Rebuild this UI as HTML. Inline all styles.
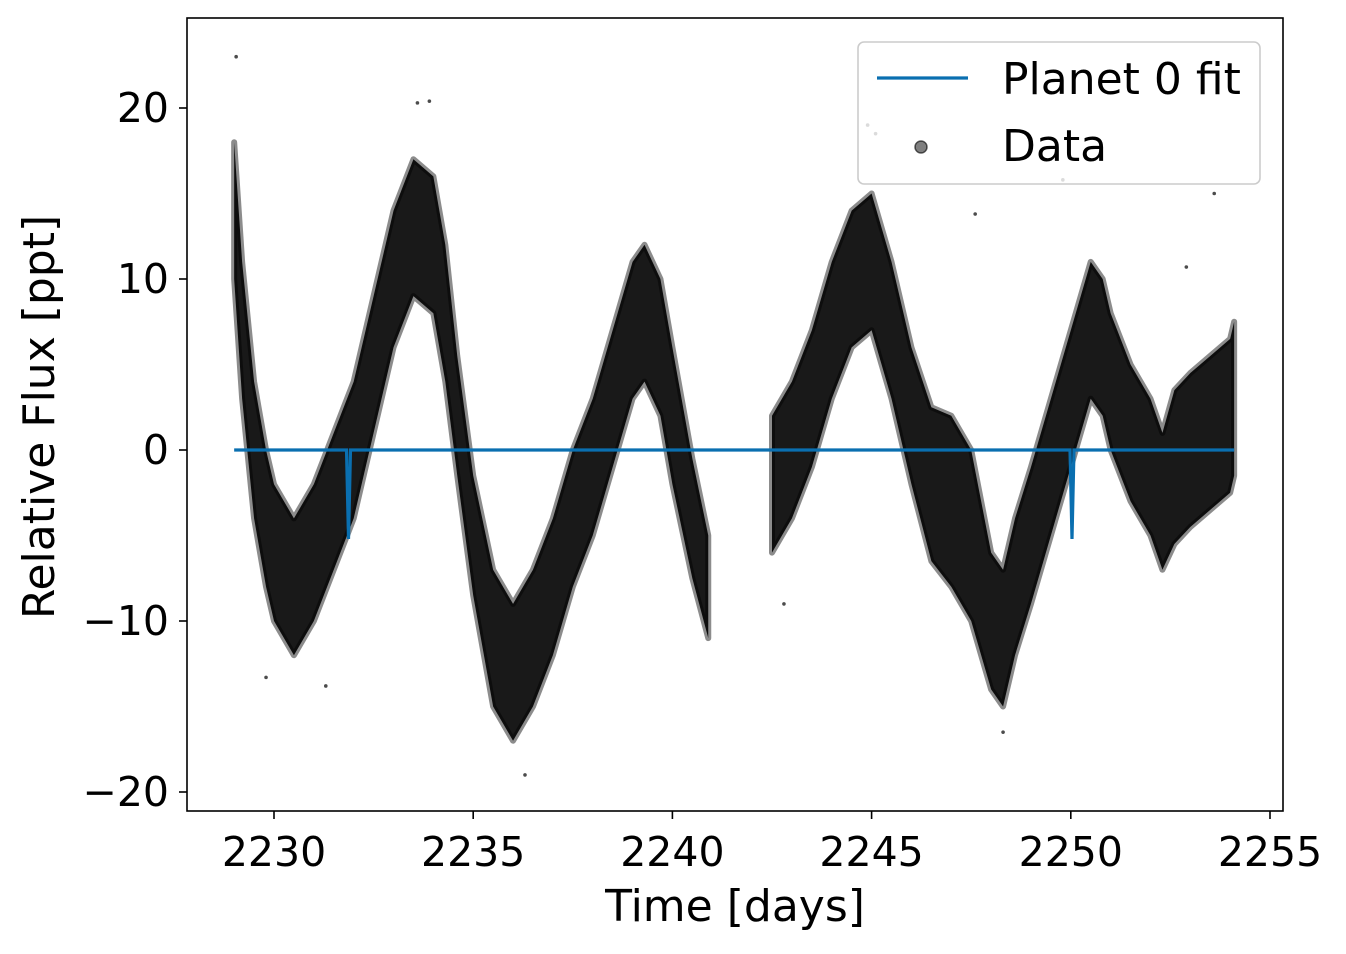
<!DOCTYPE html>
<html><head><meta charset="utf-8"><style>
html,body{margin:0;padding:0;background:#fff}
svg text{font-family:"DejaVu Sans","Liberation Sans",sans-serif;fill:#000}
</style></head><body>
<svg id="chart" width="1346" height="949" viewBox="0 0 1346 949" xmlns="http://www.w3.org/2000/svg">
<g id="plot"></g>
</svg>
<script>
// data
const times = [2229.0,2229.2,2229.5,2229.8,2230.0,2230.5,2231.0,2231.5,2232.0,2232.5,2233.0,2233.5,2234.0,2234.3,2234.6,2235.0,2235.5,2236.0,2236.5,2237.0,2237.5,2238.0,2238.5,2239.0,2239.3,2239.7,2240.0,2240.5,2240.9];
const centers = [14,7,0,-4,-6,-8,-6,-3,0,5,10,13,12,8,2,-5,-11,-13,-11,-8,-4,-1,3,7,8,6,2,-4,-8];
const halfWidths = [4,4,4,4,4,4,4,4,4,4,4,4,4,4,3.5,3.5,4,4,4,4,4,4,4,4,4,4,4,3.5,3];
const times2 = [2242.5,2243.0,2243.5,2244.0,2244.5,2245.0,2245.5,2246.0,2246.5,2247.0,2247.5,2248.0,2248.3,2248.6,2249.0,2249.5,2250.0,2250.5,2250.8,2251.0,2251.5,2252.0,2252.3,2252.6,2253.0,2253.5,2254.0,2254.1];
const centers2 = [-2,0,3,7,10,11,7,2,-2,-3,-5,-10,-11,-8,-5,-1,3,7,6,4,1,-1,-3,-1,0,1,2,3];
const halfWidths2 = [4,4,4,4,4,4,4,4,4.5,5,5,4,4,4,4,4,4,4,4,4,4,4,4,4.5,4.5,4.5,4.5,4.5];
const outlierT = [2229.05,2233.6,2233.9,2244.9,2245.1,2247.6,2249.8,2252.9,2253.6,2231.3,2236.3,2248.3,2229.8,2242.8];
const outlierY = [23,20.3,20.4,19,18.5,13.8,15.8,10.7,15,-13.8,-19,-16.5,-13.3,-9];
const modelT = [2229.0,2231.82,2231.87,2231.92,2249.98,2250.03,2250.08,2254.1];
const modelY = [0,0,-5.2,0,0,-5.2,0,0];
const xTicks = [2230,2235,2240,2245,2250,2255];
const yTicks = [-20,-10,0,10,20];

const L=187,R=1283,T=18,B=811;
const X=t=>274+(t-2230)*39.84;
const Y=v=>450-v*17.1;
const NS='http://www.w3.org/2000/svg';
const g=document.getElementById('plot');
function mk(tag,attrs,parent){const e=document.createElementNS(NS,tag);for(const k in attrs)e.setAttribute(k,attrs[k]);(parent||g).appendChild(e);return e;}

function band(ts,cs,hs){
  let up=ts.map((t,i)=>X(t)+','+Y(cs[i]+hs[i]));
  let lo=ts.map((t,i)=>X(t)+','+Y(cs[i]-hs[i])).reverse();
  const p=mk('polygon',{points:up.concat(lo).join(' '),fill:'#000','fill-opacity':'0.9',stroke:'#000','stroke-opacity':'0.45','stroke-width':'6','stroke-linejoin':'round'});
  
  
}
band(times,centers,halfWidths);
band(times2,centers2,halfWidths2);
outlierT.forEach((t,i)=>{
  const c=mk('circle',{cx:X(t),cy:Y(outlierY[i]),r:1.8,fill:'#000','fill-opacity':'0.7'});
  
  
});
const ml=mk('polyline',{points:modelT.map((t,i)=>X(t)+','+Y(modelY[i])).join(' '),fill:'none',stroke:'#0a6fb0','stroke-width':'3.2'});



const fr=mk('rect',{x:L,y:T,width:R-L,height:B-T,fill:'none',stroke:'#000','stroke-width':'1.6'});



xTicks.forEach(v=>{
  const x=X(v);
  const tk=mk('line',{x1:x,x2:x,y1:B,y2:B+8,stroke:'#000','stroke-width':'1.6'});
  
  
  const tx=mk('text',{x:x,y:B+55,'text-anchor':'middle','font-size':'41'});
  tx.textContent=v;
  
  
});
yTicks.forEach(v=>{
  const y=Y(v);
  const tk=mk('line',{x1:L-8,x2:L,y1:y,y2:y,stroke:'#000','stroke-width':'1.6'});
  
  
  const tx=mk('text',{x:L-18,y:y+14,'text-anchor':'end','font-size':'41'});
  tx.textContent=v<0?'\u2212'+Math.abs(v):v;
  
  
});
const xl=mk('text',{x:735,y:921,'text-anchor':'middle','font-size':'44'});
xl.textContent='Time [days]';


const yl=mk('text',{x:0,y:0,'text-anchor':'middle','font-size':'44',transform:'translate(54,417) rotate(-90)'});
yl.textContent='Relative Flux [ppt]';



const lg=mk('g',{});


mk('rect',{x:858,y:42,width:402,height:142,rx:6,fill:'#fff','fill-opacity':'0.8',stroke:'#ccc','stroke-width':'1.6'},lg);
mk('line',{x1:877,x2:968,y1:78,y2:78,stroke:'#0a6fb0','stroke-width':'3.2'},lg);
const t1=mk('text',{x:1002,y:94,'font-size':'44'},lg);t1.textContent='Planet 0 fit';


mk('circle',{cx:921,cy:147,r:6,fill:'#000','fill-opacity':'0.5',stroke:'#000','stroke-opacity':'0.6','stroke-width':'1.5'},lg);
const t2=mk('text',{x:1002,y:161,'font-size':'44'},lg);t2.textContent='Data';


</script>
</body></html>
